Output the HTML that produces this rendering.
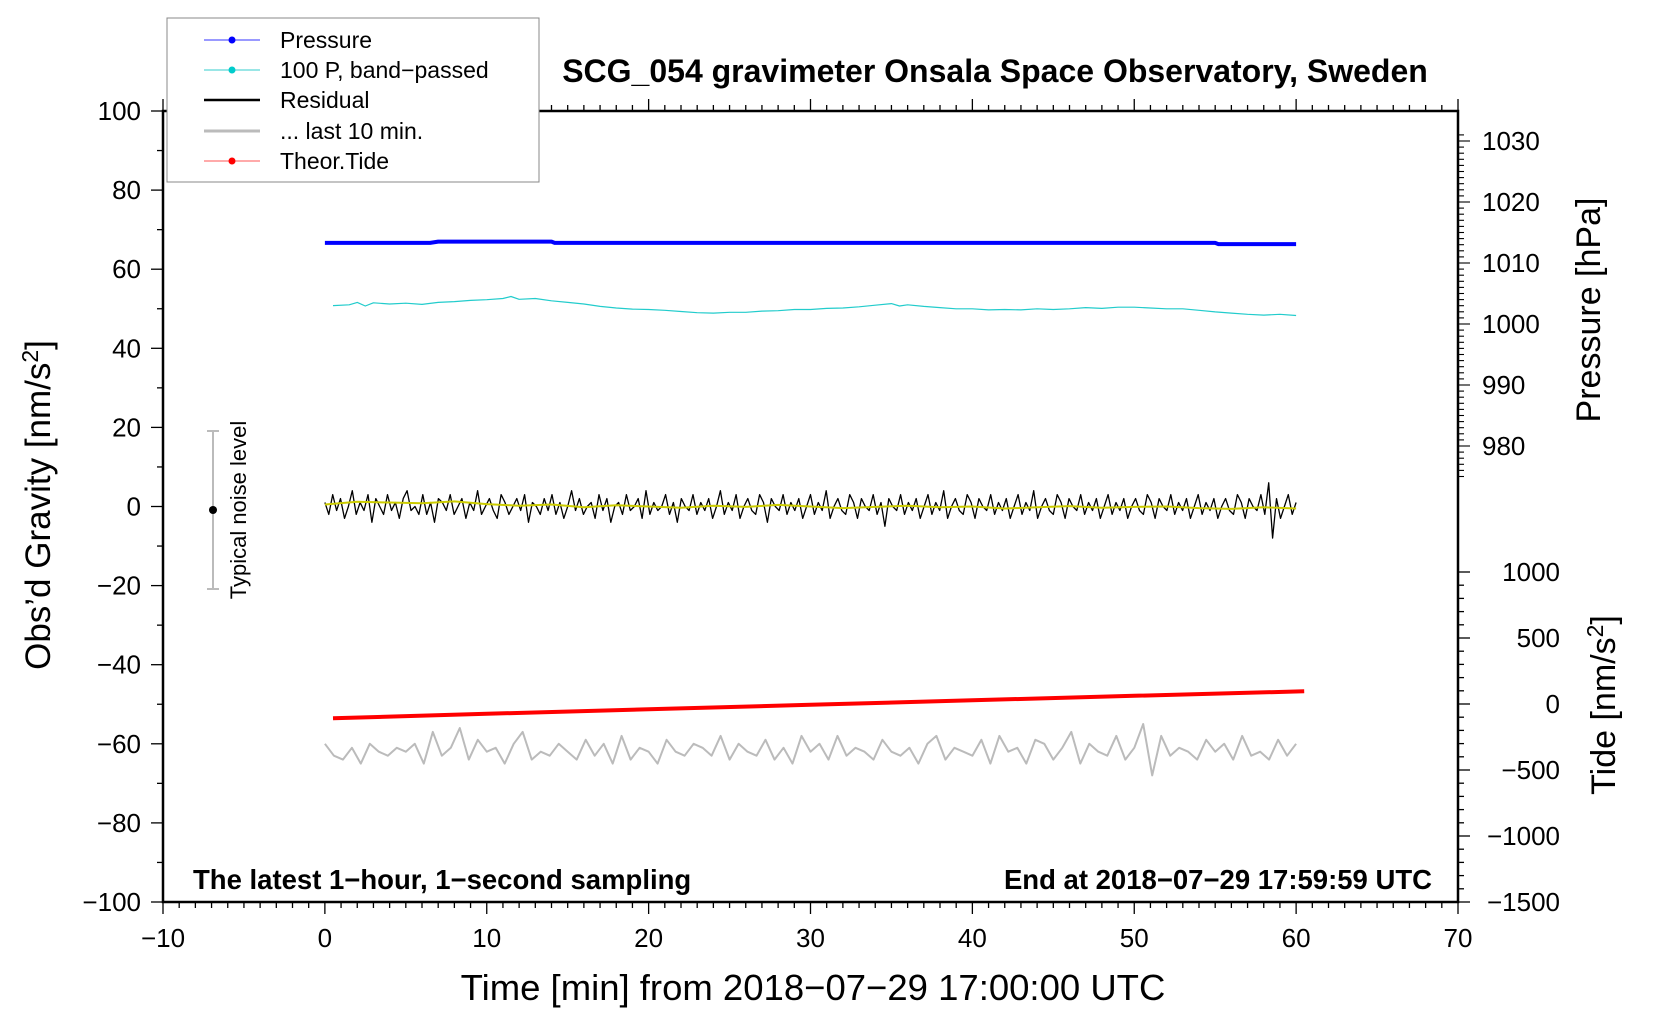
<!DOCTYPE html>
<html><head><meta charset="utf-8"><style>
body{margin:0;background:#fff;}
svg{display:block;font-family:"Liberation Sans",sans-serif;}
</style></head><body>
<svg id="c" width="1660" height="1020" viewBox="0 0 1660 1020">
<g id="grid"></g>
<g id="series"></g>
<g id="axes"></g>
<rect x="167" y="18" width="372" height="164" fill="#fff" stroke="#888" stroke-width="1"/>
<g><line x1="204" y1="40" x2="260" y2="40" stroke="#33f" stroke-width="1"/><circle cx="232" cy="40" r="3.5" fill="#00f"/><text x="280" y="48" font-size="23">Pressure</text></g>
<g><line x1="204" y1="70" x2="260" y2="70" stroke="#3cc" stroke-width="1"/><circle cx="232" cy="70" r="3.5" fill="#0cc"/><text x="280" y="78" font-size="23">100 P, band−passed</text></g>
<g><line x1="204" y1="100" x2="260" y2="100" stroke="#000" stroke-width="2.5"/><text x="280" y="108" font-size="23">Residual</text></g>
<g><line x1="204" y1="131" x2="260" y2="131" stroke="#bbb" stroke-width="3"/><text x="280" y="139" font-size="23">... last 10 min.</text></g>
<g><line x1="204" y1="161" x2="260" y2="161" stroke="#f55" stroke-width="1"/><circle cx="232" cy="161" r="3.5" fill="#f00"/><text x="280" y="169" font-size="23">Theor.Tide</text></g>
<text x="995" y="82" font-size="32" font-weight="bold" text-anchor="middle">SCG_054 gravimeter Onsala Space Observatory, Sweden</text>
<text x="193" y="889" font-size="27.5" font-weight="bold">The latest 1−hour, 1−second sampling</text>
<text x="1432" y="889" font-size="27.5" font-weight="bold" text-anchor="end">End at 2018−07−29 17:59:59 UTC</text>
<text x="813" y="1000" font-size="36.5" text-anchor="middle">Time [min] from 2018−07−29 17:00:00 UTC</text>
<text transform="translate(50,505) rotate(-90)" font-size="35" text-anchor="middle">Obs’d Gravity [nm/s<tspan dy="-12" font-size="23">2</tspan><tspan dy="12">]</tspan></text>
<text transform="translate(1600,310) rotate(-90)" font-size="34" text-anchor="middle">Pressure [hPa]</text>
<text transform="translate(1615,705) rotate(-90)" font-size="34" text-anchor="middle">Tide [nm/s<tspan dy="-12" font-size="23">2</tspan><tspan dy="12">]</tspan></text>
<g>
<line x1="213" y1="431" x2="213" y2="589" stroke="#bbb" stroke-width="2"/>
<line x1="207" y1="431" x2="219" y2="431" stroke="#bbb" stroke-width="2"/>
<line x1="207" y1="589" x2="219" y2="589" stroke="#bbb" stroke-width="2"/>
<circle cx="213" cy="510" r="4" fill="#000"/>
<text transform="translate(246,510) rotate(-90)" font-size="22" text-anchor="middle">Typical noise level</text>
</g>
</svg>
<script>
const xTicks=[-10,0,10,20,30,40,50,60,70];
const yTicks=[-100,-80,-60,-40,-20,0,20,40,60,80,100];
const pTicks=[980,990,1000,1010,1020,1030];
const tTicks=[-1500,-1000,-500,0,500,1000];
const pressureT=[0,6.5,7,14,14.2,55,55.2,60];
const pressureV=[1013.3,1013.3,1013.5,1013.5,1013.3,1013.3,1013.1,1013.1];
const bandT=[0.5,1.5,2,2.5,3,4,5,6,7,8,9,10,11,11.5,12,13,14,15,16,17,18,19,20,21,22,23,24,25,26,27,28,29,30,31,32,33,34,35,35.5,36,37,38,39,40,41,42,43,44,45,46,47,48,49,50,51,52,53,54,55,56,57,58,59,60];
const bandV=[50.8,51,51.6,50.7,51.5,51.2,51.4,51.1,51.6,51.8,52.1,52.3,52.6,53.1,52.4,52.6,52.0,51.6,51.2,50.6,50.2,49.9,49.8,49.6,49.3,49.0,48.9,49.1,49.1,49.4,49.5,49.8,49.8,50.1,50.2,50.5,50.9,51.3,50.7,51.0,50.6,50.3,50.0,50.0,49.7,49.8,49.7,50.0,49.8,50.0,50.3,50.1,50.4,50.4,50.2,50.0,50.0,49.6,49.2,48.9,48.6,48.4,48.6,48.3];
const resid=[1,-2,3,-1,2,-3,0,4,-2,1,-1,3,-4,2,0,-2,3,-1,1,-3,2,4,-1,0,-2,3,-2,1,-4,2,1,-1,3,-2,0,2,-3,1,-1,4,-2,0,2,-1,-3,3,1,-2,0,2,-1,3,-4,1,0,-2,2,-1,3,-2,1,-3,0,4,-1,2,-2,0,1,-3,3,-1,2,-4,0,1,-2,3,-1,0,2,-3,4,-2,1,-1,0,3,-2,1,-4,2,0,-1,3,-2,1,-1,2,-3,0,4,-2,1,-1,3,-3,0,2,-1,-2,3,1,-4,2,0,-1,3,-2,1,-1,2,-3,0,3,-2,1,-1,4,-3,0,2,-1,-2,3,1,-3,2,0,-1,3,-2,1,-5,2,0,-1,3,-2,1,-1,2,-3,0,3,-2,1,-1,4,-3,0,2,-1,-2,3,1,-3,2,0,-1,3,-2,1,-1,2,-3,0,3,-2,1,-1,4,-3,0,2,-1,-2,3,1,-3,2,0,-1,3,-2,1,-1,2,-3,0,3,-2,1,-1,2,-3,0,2,-1,-2,3,1,-3,2,0,-1,3,-2,1,-1,2,-3,0,3,-2,1,-1,2,-3,0,2,-1,-2,3,1,-3,2,0,-1,3,-2,6,-8,2,-3,0,3,-2,1];
const smoothV=[0.5,1.2,1.0,0.8,1.3,0.6,0.2,0.5,-0.2,0.3,0,-0.3,0.2,-0.1,0.4,0,-0.4,-0.1,0.2,-0.2,0,-0.5,-0.2,0.1,-0.3,-0.1,0,-0.4,-0.6,-0.2,-0.5];
const gray=[-60,-63,-64,-61,-65,-60,-62,-63,-61,-62,-60,-65,-57,-63,-61,-56,-64,-59,-62,-61,-65,-60,-57,-64,-62,-63,-60,-62,-64,-59,-63,-60,-65,-58,-64,-61,-62,-65,-59,-62,-63,-60,-61,-63,-58,-64,-60,-62,-63,-59,-64,-61,-65,-58,-62,-60,-64,-58,-63,-61,-62,-64,-59,-62,-63,-61,-65,-60,-58,-64,-61,-62,-63,-59,-65,-58,-62,-61,-65,-59,-60,-64,-61,-57,-65,-60,-62,-63,-58,-64,-61,-55,-68,-58,-63,-61,-62,-64,-59,-62,-60,-64,-58,-63,-62,-64,-59,-63,-60];
const tideT=[0.5,10,20,30,40,50,60.5];
const tideV=[-108,-74,-40,-6,28,62,96];
const X=t=>163+(t+10)*(1458-163)/80;
const Y=v=>111+(100-v)*(902-111)/200;
const P=p=>141+(1030-p)*6.1;
const T=v=>704-v*0.132;
const svg=document.getElementById('c');
const NS='http://www.w3.org/2000/svg';
function el(tag,attrs,parent){const e=document.createElementNS(NS,tag);for(const k in attrs)e.setAttribute(k,attrs[k]);(parent||svg).appendChild(e);return e;}
const ax=document.getElementById('axes'), se=document.getElementById('series');
function poly(pts,stroke,w,name){const e=el('polyline',{points:pts.map(p=>p[0].toFixed(1)+','+p[1].toFixed(1)).join(' '),fill:'none',stroke:stroke,'stroke-width':w,'stroke-linejoin':'round'},se);


return e;}
poly(pressureT.map((t,i)=>[X(t),P(pressureV[i])]),'#00f',4,'pressure-line');
poly(bandT.map((t,i)=>[X(t),Y(bandV[i])]),'#2cc',1.2,'bandpassed-pressure-line');
poly(resid.map((v,i)=>[X(i*60/(resid.length-1)),Y(v)]),'#000',1.3,'residual-line');
poly(smoothV.map((v,i)=>[X(i*60/(smoothV.length-1)),Y(v)]),'#cc0',2,'residual-smoothed-line');
poly(gray.map((v,i)=>[X(i*60/(gray.length-1)),Y(v)]),'#bbb',2,'last-10-min-line');
poly(tideT.map((t,i)=>[X(t),T(tideV[i])]),'#f00',4,'tide-line');
const fr=el('rect',{x:163,y:111,width:1295,height:791,fill:'none',stroke:'#000','stroke-width':2.5},ax);


for(let t=-10;t<=70;t++){const maj=t%10===0;el('line',{x1:X(t),y1:902,x2:X(t),y2:maj?914:908,stroke:'#000','stroke-width':1.3},ax);el('line',{x1:X(t),y1:111,x2:X(t),y2:maj?99:105,stroke:'#000','stroke-width':1.3},ax);}
xTicks.forEach(t=>{const e=el('text',{x:X(t),y:947,'font-size':26,'text-anchor':'middle'},ax);e.textContent=t<0?'−'+(-t):t;

});
for(let v=-100;v<=100;v+=10){const maj=v%20===0;el('line',{x1:163,y1:Y(v),x2:maj?151:157,y2:Y(v),stroke:'#000','stroke-width':1.3},ax);}
yTicks.forEach(v=>{const e=el('text',{x:141,y:Y(v)+9,'font-size':26,'text-anchor':'end'},ax);e.textContent=v<0?'−'+(-v):v;

});
for(let p=975;p<=1031;p++){const maj=p%10===0;el('line',{x1:1458,y1:P(p),x2:maj?1470:1464,y2:P(p),stroke:'#000','stroke-width':1.1},ax);}
pTicks.forEach(p=>{const e=el('text',{x:1482,y:P(p)+9,'font-size':26},ax);e.textContent=p;

});
for(let v=-1500;v<=1000;v+=100){const maj=v%500===0;el('line',{x1:1458,y1:T(v),x2:maj?1470:1464,y2:T(v),stroke:'#000','stroke-width':1.3},ax);}
tTicks.forEach(v=>{const e=el('text',{x:1560,y:T(v)+9,'font-size':26,'text-anchor':'end'},ax);e.textContent=v<0?'−'+(-v):v;

});
</script>
</body></html>
